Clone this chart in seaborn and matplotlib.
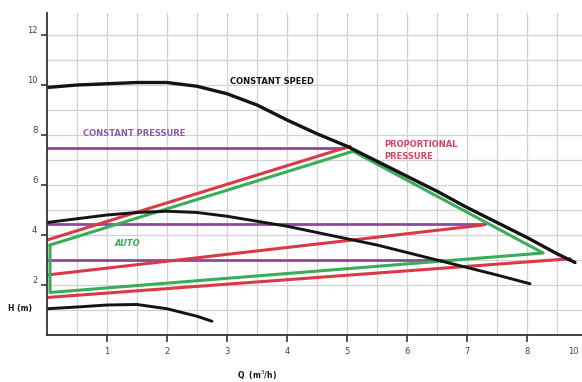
import numpy as np
import pandas as pd
import matplotlib
matplotlib.use("Agg")
import matplotlib.pyplot as plt
import seaborn as sns

# ---- data ----
speed_hi_q = [0, 0.5, 1.0, 1.5, 2.0, 2.5, 3.0, 3.5, 4.0, 4.5, 5.0, 5.5, 6.0, 6.5, 7.0, 7.5, 8.0, 8.5, 8.8]
speed_hi_h = [9.9, 10.0, 10.05, 10.1, 10.1, 9.95, 9.65, 9.2, 8.6, 8.05, 7.55, 6.95, 6.35, 5.75, 5.1, 4.5, 3.9, 3.25, 2.9]

speed_mid_q = [0, 0.5, 1.0, 1.5, 2.0, 2.5, 3.0, 3.5, 4.0, 4.5, 5.0, 5.5, 6.0, 6.5, 7.0, 7.5, 8.05]
speed_mid_h = [4.5, 4.65, 4.8, 4.9, 4.95, 4.9, 4.75, 4.55, 4.35, 4.1, 3.85, 3.6, 3.3, 3.0, 2.7, 2.4, 2.05]

speed_lo_q = [0, 0.5, 1.0, 1.5, 2.0, 2.5, 2.75]
speed_lo_h = [1.05, 1.12, 1.2, 1.22, 1.05, 0.75, 0.55]

cp_levels = [7.5, 4.45, 3.0]
cp_ends = [4.95, 7.3, 6.6]

pp_start_h = [3.8, 2.4, 1.5]
pp_end_q = [5.05, 7.27, 8.72]
pp_end_h = [7.55, 4.4, 3.05]

auto_q = [0.05, 5.1, 8.27, 0.05, 0.05]
auto_h = [3.6, 7.35, 3.28, 1.7, 3.6]

x_ticks = [1, 2, 3, 4, 5, 6, 7, 8, 9]
x_tick_labels = ["1", "2", "3", "4", "5", "6", "7", "8", ""]
x_edge_label = "10"
y_ticks = [2, 4, 6, 8, 10, 12]
y_tick_labels = ["2", "4", "6", "8", "10", "12"]

# ---- colours ----
BLACK = "#141414"
PURPLE = "#8a4a9e"
RED = "#d93a45"
GREEN = "#3aad58"

sns.set_theme(style="white")
plt.rcParams["font.family"] = ["DejaVu Sans"]

W, H = 582, 382
fig = plt.figure(figsize=(W / 100, H / 100), dpi=100)
x0, y0 = 47, 335
px_x, px_y = 60, 25
xmax, ymax = 9.05, 12.9
ax = fig.add_axes([x0 / W, (H - y0) / H, xmax * px_x / W, ymax * px_y / H])

def frame(q, h):
    return pd.DataFrame({"Q": q, "H": h})

# constant pressure (purple)
for lev, end in zip(cp_levels, cp_ends):
    sns.lineplot(data=frame([0, end], [lev, lev]), x="Q", y="H", ax=ax,
                 color=PURPLE, lw=2.0, estimator=None, sort=False)
# proportional pressure (red)
for h0, q1, h1 in zip(pp_start_h, pp_end_q, pp_end_h):
    sns.lineplot(data=frame([0, q1], [h0, h1]), x="Q", y="H", ax=ax,
                 color=RED, lw=2.2, estimator=None, sort=False)
# auto (green)
sns.lineplot(data=frame(auto_q, auto_h), x="Q", y="H", ax=ax,
             color=GREEN, lw=2.2, estimator=None, sort=False)
# constant speed curves (black)
for q, h, lw in [(speed_hi_q, speed_hi_h, 2.4), (speed_mid_q, speed_mid_h, 2.1),
                 (speed_lo_q, speed_lo_h, 2.1)]:
    sns.lineplot(data=frame(q, h), x="Q", y="H", ax=ax, color=BLACK, lw=lw,
                 estimator=None, sort=False)

ax.set_xlim(0, xmax)
ax.set_ylim(0, ymax)
ax.set_xlabel("")
ax.set_ylabel("")

ax.set_xticks(np.arange(0.5, 9.01, 0.5), minor=True)
ax.set_xticks(x_ticks)
ax.set_xticklabels(x_tick_labels)
ax.set_yticks(np.arange(1, 13, 1), minor=True)
ax.set_yticks(y_ticks)
ax.set_yticklabels(y_tick_labels)
for lab in ax.get_yticklabels():
    lab.set_verticalalignment("bottom")

ax.grid(True, which="both", color="#d2d2d2", lw=0.9)
ax.set_axisbelow(True)
ax.tick_params(axis="x", which="major", direction="out", length=5, width=1.2,
               color="#333333", labelsize=6, labelcolor="#444444", pad=4, bottom=True)
ax.tick_params(axis="y", which="major", direction="out", length=4, width=1.2,
               color="#333333", labelsize=6, labelcolor="#444444", pad=3, left=True)
ax.tick_params(which="minor", length=0)

for s in ["top", "right"]:
    ax.spines[s].set_visible(False)
for s in ["left", "bottom"]:
    ax.spines[s].set_color("#333333")
    ax.spines[s].set_linewidth(1.3)

# edge tick label, kept inside the picture
ax.text(8.77, -0.64, x_edge_label, color="#444444", fontsize=6, ha="center",
        va="center", clip_on=False)

# labels
ax.text(3.05, 10.12, "CONSTANT SPEED", color=BLACK, fontsize=6.0, fontweight="bold",
        ha="left", va="center")
ax.text(0.6, 8.08, "CONSTANT PRESSURE", color="#8d5aa8", fontsize=6.0, fontweight="bold",
        ha="left", va="center")
ax.text(5.62, 7.38, "PROPORTIONAL\nPRESSURE", color="#d84660", fontsize=6.0,
        fontweight="bold", ha="left", va="center", linespacing=1.5)
ax.text(1.13, 3.68, "AUTO", color=GREEN, fontsize=6.0, fontweight="bold",
        fontstyle="italic", ha="left", va="center")
ax.text(-0.65, 1.04, "H (m)", color=BLACK, fontsize=5.5, fontweight="bold",
        ha="left", va="center", clip_on=False)
ax.text(3.5, -1.62, "Q  (m$^3$/h)", color=BLACK, fontsize=5.5, fontweight="bold",
        ha="center", va="center", clip_on=False)

fig.savefig("out.png", dpi=100)
